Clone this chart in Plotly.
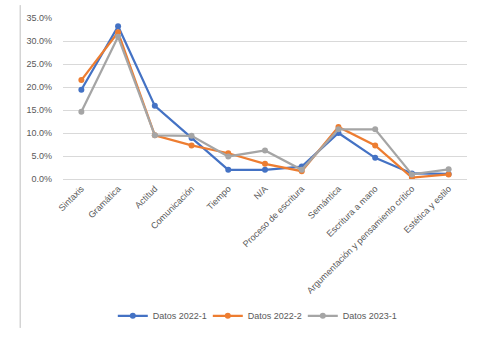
import plotly.graph_objects as go

categories = ["Sintaxis", "Gramática", "Actitud", "Comunicación", "Tiempo", "N/A",
              "Proceso de escritura", "Semántica", "Escritura a mano",
              "Argumentación y pensamiento crítico", "Estética y estilo"]
datos_2022_1 = [19.4, 33.2, 15.9, 8.9, 2.0, 2.0, 2.7, 10.0, 4.6, 1.2, 1.1]
datos_2022_2 = [21.5, 31.9, 9.5, 7.3, 5.6, 3.3, 1.7, 11.3, 7.3, 0.3, 1.0]
datos_2023_1 = [14.6, 30.9, 9.5, 9.4, 4.9, 6.2, 2.0, 10.8, 10.8, 1.0, 2.1]
series_names = ["Datos 2022-1", "Datos 2022-2", "Datos 2023-1"]
colors = ["#4472C4", "#ED7D31", "#A5A5A5"]
y_ticks = [0, 5, 10, 15, 20, 25, 30, 35]
y_tick_labels = [f"{v:.1f}%" for v in y_ticks]

font_family = "Liberation Sans, Arial, sans-serif"
txt = "#595959"

fig = go.Figure()
for name, vals, c in zip(series_names, [datos_2022_1, datos_2022_2, datos_2023_1], colors):
    fig.add_trace(go.Scatter(
        x=categories, y=vals, name=name, mode="lines+markers",
        line=dict(color=c, width=2.25),
        marker=dict(color=c, size=6),
    ))

fig.update_layout(
    width=484, height=348,
    margin=dict(l=63, r=17, t=18, b=169),
    paper_bgcolor="white", plot_bgcolor="white",
    font=dict(family=font_family, size=9, color=txt),
    showlegend=True,
    legend=dict(orientation="h", x=0.476, xanchor="center", y=-0.85, yanchor="middle",
                font=dict(size=9, color=txt), itemwidth=30,
                entrywidth=50, entrywidthmode="pixels"),
    xaxis=dict(tickangle=-45, showgrid=False, showline=True, linecolor="#D9D9D9",
               linewidth=1, ticks="", tickfont=dict(size=9, color=txt),
               range=[-0.5, len(categories) - 0.5]),
    yaxis=dict(range=[0, 35], tickvals=y_ticks, ticktext=y_tick_labels,
               showgrid=True, gridcolor="#D9D9D9", gridwidth=1, zeroline=False,
               tickfont=dict(size=9, color=txt), ticks="", ticklabelstandoff=10),
    shapes=[dict(type="line", xref="paper", yref="paper", x0=-0.106, x1=-0.106,
                 y0=1.08, y1=-0.925, line=dict(color="#BFBFBF", width=1))],
)

fig.write_html("out.html", config={"displayModeBar": False},
               post_script="document.body.style.margin='0';")
